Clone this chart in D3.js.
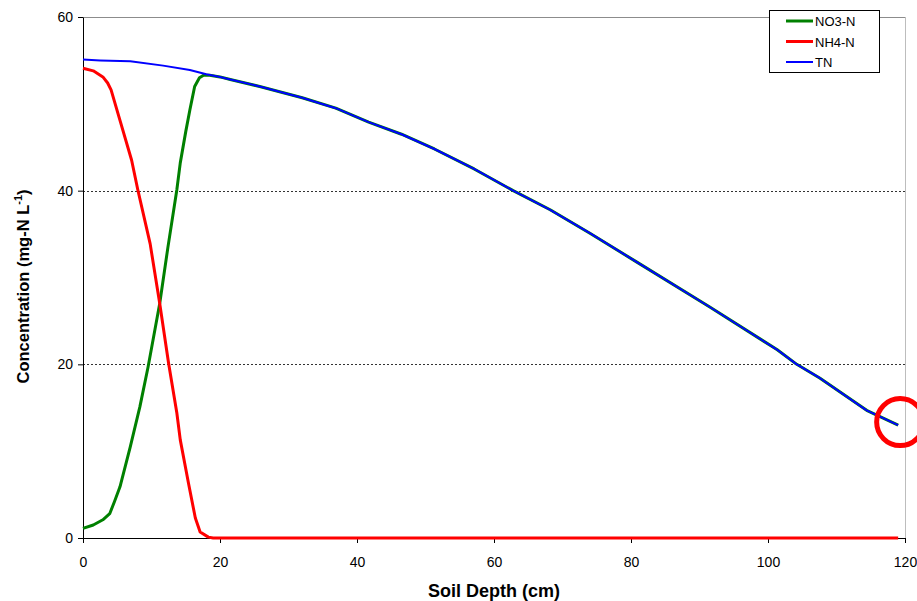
<!DOCTYPE html>
<html>
<head>
<meta charset="utf-8">
<script src="https://cdn.jsdelivr.net/npm/d3@7"></script>
<style>
  body { margin: 0; background: #fff; }
  text { font-family: "Liberation Sans", Arial, sans-serif; }
</style>
</head>
<body>
<div id="chart"></div>
<script>
// [soil depth (cm), concentration (mg-N/L)]
var no3 = [[0,1.1],[1.5,1.5],[2.9,2.1],[3.9,2.8],[4.6,4.2],[5.4,5.9],[6.9,10.5],[8.3,15.1],[9.5,19.7],
           [11.2,27.0],[12.4,33.5],[13.7,40.1],[14.2,43.2],[15.0,46.8],[15.6,49.3],[16.3,52.0],
           [17.0,53.0],[17.6,53.3],[18.5,53.3],[20,53.1],[21.5,52.8],[25.8,52.0],[32,50.7],
           [36.9,49.5],[41.7,47.9],[46.5,46.5],[51.3,44.8],[57.1,42.5],[62.8,40.0],[68.2,37.8],
           [74,35.1],[80.8,31.8],[91.5,26.6],[101.3,21.7],[104.2,20.0],[107.6,18.4],[114.4,14.7],
           [119,13.0]]

var nh4 = [[0,54.1],[1.5,53.8],[2.9,53.1],[3.6,52.4],[4.1,51.6],[5.4,48.1],[7.1,43.5],[8.0,40.1],
           [9.8,33.9],[11.2,27.0],[12.5,20.1],[13.7,14.4],[14.2,11.3],[15.4,6.3],[16.4,2.3],
           [17.1,0.7],[18.3,0.1],[19,0],[40,0],[60,0],[80,0],[100,0],[119,0]]

var tn = [[0,55.1],[2.5,55.0],[6.9,54.9],[11.7,54.4],[15.6,53.9],[18,53.4],[20,53.1],[21.5,52.8],
          [25.8,52.0],[32,50.7],[36.9,49.5],[41.7,47.9],[46.5,46.5],[51.3,44.8],[57.1,42.5],
          [62.8,40.0],[68.2,37.8],[74,35.1],[80.8,31.8],[91.5,26.6],[101.3,21.7],
          [104.2,20.0],[107.6,18.4],[114.4,14.7],[119,13.0]]

var xTicks = [0, 20, 40, 60, 80, 100, 120]
var yTicks = [0, 20, 40, 60]
var gridTicks = [20, 40]

// highlighted end point of TN (red ring in the original)
var marked = [119, 13.0]

var series = [
  {name: "NO3-N", data: no3, color: "#008000", w: 3},
  {name: "NH4-N", data: nh4, color: "#ff0000", w: 3},
  {name: "TN",    data: tn,  color: "#0000ff", w: 2}
]

var margin = {top: 17, right: 12, bottom: 63, left: 83},
    width = 917 - margin.left - margin.right,
    height = 601 - margin.top - margin.bottom;

var svg0 = d3.select("#chart").append("svg")
  .attr("width", 917)
  .attr("height", 601)

var svg = svg0.append("g")
  .attr("transform", "translate(" + margin.left + "," + margin.top + ")")

var x = d3.scaleLinear().domain([0, 120]).range([0, width])
var y = d3.scaleLinear().domain([0, 60]).range([height, 0])

// plot area border
svg.append("line").attr("x1", 0).attr("x2", width).attr("y1", 0.5).attr("y2", 0.5)
  .attr("stroke", "#8c8c8c")
svg.append("line").attr("x1", width + 0.5).attr("x2", width + 0.5).attr("y1", 0).attr("y2", height)
  .attr("stroke", "#bdbdbd")

// dotted gridlines
svg.selectAll(".grid").data(gridTicks).enter().append("line")
  .attr("x1", 0).attr("x2", width)
  .attr("y1", function(d){ return Math.round(y(d)) + 0.5 })
  .attr("y2", function(d){ return Math.round(y(d)) + 0.5 })
  .attr("stroke", "#333")
  .attr("stroke-dasharray", "2,2")

// axes
var xAxis = svg.append("g")
  .attr("transform", "translate(0," + height + ")")
  .call(d3.axisBottom(x).tickValues(xTicks).tickSize(5).tickPadding(14).tickSizeOuter(0))
var yAxis = svg.append("g")
  .call(d3.axisLeft(y).tickValues(yTicks).tickSize(5).tickPadding(5).tickSizeOuter(0))

xAxis.selectAll("text").attr("font-size", "14px").attr("fill", "#000")
yAxis.selectAll("text").attr("font-size", "14px").attr("fill", "#000")
xAxis.select(".domain").attr("stroke", "#000")
yAxis.select(".domain").attr("stroke", "#000")

// lines
var line = d3.line()
  .x(function(d){ return x(d[0]) })
  .y(function(d){ return y(d[1]) })

series.forEach(function(s){
  svg.append("path")
    .datum(s.data)
    .attr("fill", "none")
    .attr("stroke", s.color)
    .attr("stroke-width", s.w)
    .attr("stroke-linejoin", "round")
    .attr("d", line)
})

// red ring
svg.append("circle")
  .attr("cx", x(marked[0]) + 2)
  .attr("cy", y(marked[1]) - 3)
  .attr("r", 23.5)
  .attr("fill", "none")
  .attr("stroke", "#ff0000")
  .attr("stroke-width", 5)

// axis titles
svg0.append("text")
  .attr("x", margin.left + width / 2 + 0)
  .attr("y", 597)
  .attr("text-anchor", "middle")
  .attr("font-size", "18px")
  .attr("font-weight", "bold")
  .text("Soil Depth (cm)")

var yt = svg0.append("text")
  .attr("transform", "translate(29," + (margin.top + height / 2 + 9) + ") rotate(-90)")
  .attr("text-anchor", "middle")
  .attr("font-size", "16.5px")
  .attr("font-weight", "bold")
yt.append("tspan").text("Concentration (mg-N L")
yt.append("tspan").attr("dy", -7).attr("font-size", "11px").text("-1")
yt.append("tspan").attr("dy", 7).text(")")

// legend
var lg = svg0.append("g").attr("transform", "translate(769,10)")
lg.append("rect").attr("x", 0.5).attr("y", 0.5).attr("width", 110).attr("height", 62)
  .attr("fill", "#fff").attr("stroke", "#000")
series.forEach(function(s, i){
  var yy = 11 + i * 20.5
  lg.append("line").attr("x1", 17).attr("x2", 44).attr("y1", yy).attr("y2", yy)
    .attr("stroke", s.color).attr("stroke-width", s.w)
  lg.append("text").attr("x", 46).attr("y", yy + 5)
    .attr("font-size", "13px").text(s.name)
})
</script>
</body>
</html>
